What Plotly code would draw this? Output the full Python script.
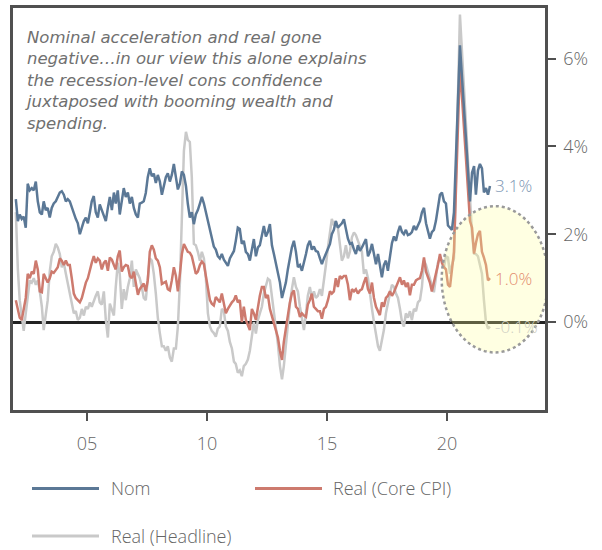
import pandas as pd
import plotly.graph_objects as go

# Monthly series, Jan 2002 - Oct 2021 (% y/y growth)
nom = [
    2.8, 2.3, 2.45, 2.35, 2.4, 2.15, 3.15, 3.0, 3.05, 3.0, 3.2, 2.75,    # 2002
    2.5, 2.45, 2.75, 2.55, 2.6, 2.38, 2.6, 2.7, 2.75, 2.85, 2.95, 2.98,  # 2003
    2.9, 2.75, 2.8, 2.75, 2.6, 2.5, 2.35, 2.25, 2.0, 2.15, 2.3, 2.38,    # 2004
    2.25, 2.5, 2.75, 2.87, 2.5, 2.38, 2.68, 2.55, 2.42, 2.3, 2.6, 2.85,  # 2005
    2.55, 2.95, 2.7, 3.0, 2.45, 2.8, 3.05, 2.85, 2.95, 2.7, 2.85, 2.6,   # 2006
    2.45, 2.38, 2.7, 2.72, 2.75, 2.94, 3.3, 3.5, 3.32, 3.38, 3.17, 3.35, # 2007
    3.2, 2.9, 3.1, 3.3, 3.39, 3.2, 3.35, 3.6, 3.3, 3.02, 3.15, 3.43,     # 2008
    3.35, 3.1, 2.7, 2.38, 2.5, 2.23, 2.45, 2.55, 2.7, 2.85, 2.7, 2.5,    # 2009
    2.3, 2.1, 1.95, 1.72, 1.65, 1.5, 1.45, 1.55, 1.42, 1.35, 1.28, 1.45, # 2010
    1.55, 1.62, 1.85, 2.15, 2.12, 1.78, 1.85, 1.6, 1.55, 1.4, 1.65, 1.89,# 2011
    1.5, 1.7, 1.75, 2.0, 2.19, 1.95, 2.05, 2.23, 1.75, 1.55, 1.35, 1.1,  # 2012
    0.9, 0.55, 0.7, 0.9, 1.2, 1.45, 1.7, 1.85, 1.6, 1.25, 1.3, 1.17,     # 2013
    1.4, 1.55, 1.75, 1.85, 1.65, 1.72, 1.62, 1.6, 1.45, 1.32, 1.45, 1.55,# 2014
    1.65, 1.78, 2.0, 2.1, 2.3, 2.15, 2.2, 2.25, 2.34, 2.1, 1.9, 1.78,    # 2015
    1.8, 1.65, 1.55, 1.75, 1.62, 1.7, 1.8, 1.89, 1.5, 1.6, 1.78, 1.55,   # 2016
    1.32, 1.55, 1.3, 1.02, 1.3, 1.4, 1.17, 1.5, 1.8, 1.95, 1.85, 2.05,   # 2017
    2.19, 2.05, 2.0, 2.1, 1.98, 2.0, 2.05, 2.19, 2.1, 2.2, 2.3, 2.5,     # 2018
    2.6, 2.25, 2.1, 1.9, 2.05, 2.1, 2.3, 2.65, 2.9, 2.95, 2.75, 2.7,     # 2019
    2.2, 2.15, 2.1, 2.5, None, None, 6.3, None, None, None, None, 2.75,  # 2020
    3.4, 3.55, 2.9, 3.45, 3.6, 3.5, 2.95, 3.05, 2.9, 3.1,                # 2021
]

real_core = [
    0.5, 0.25, 0.1, 0.05, 0.3, 0.55, 1.1, 1.0, 1.15, 1.1, 1.4, 1.2,       # 2002
    0.7, 0.68, 1.1, 1.0, 0.9, 1.0, 1.15, 1.12, 1.2, 1.25, 1.45, 1.4,      # 2003
    1.3, 1.4, 1.3, 1.3, 1.0, 0.65, 0.55, 0.5, 0.45, 0.55, 0.75, 0.9,      # 2004
    1.0, 1.2, 1.35, 1.5, 1.35, 1.45, 1.4, 1.2, 1.35, 1.4, 1.17, 1.47,     # 2005
    1.42, 1.3, 1.2, 1.5, 1.63, 1.15, 1.25, 1.3, 1.28, 1.05, 1.0, 1.15,    # 2006
    0.85, 0.62, 0.75, 0.82, 0.88, 0.7, 0.95, 1.6, 1.75, 1.65, 1.45, 1.4,  # 2007
    1.25, 0.87, 0.9, 0.92, 0.75, 0.72, 0.95, 1.25, 1.05, 0.7, 1.1, 1.55,  # 2008
    1.78, 1.7, 1.6, 1.58, 1.5, 1.3, 1.1, 1.15, 1.3, 1.38, 1.32, 1.05,     # 2009
    0.8, 0.5, 0.42, 0.38, 0.57, 0.5, 0.45, 0.65, 0.45, 0.2, 0.3, 0.38,    # 2010
    0.45, 0.5, 0.61, 0.45, 0.5, 0.0, 0.35, 0.05, -0.05, -0.18, 0.3, 0.2,  # 2011
    0.05, 0.35, 0.6, 0.8, 0.8, 0.55, 0.62, 0.3, 0.15, -0.05, -0.15, -0.35,# 2012
    -0.65, -0.86, -0.45, -0.15, 0.25, 0.45, 0.65, 0.72, 0.35, 0.3, 0.12, 0.2, # 2013
    0.15, 0.12, 0.4, 0.5, 0.65, 0.35, 0.3, 0.25, 0.25, 0.08, 0.3, 0.35,   # 2014
    0.5, 0.7, 0.65, 0.7, 1.0, 0.8, 1.05, 1.0, 1.05, 1.05, 0.85, 0.5,      # 2015
    0.75, 0.7, 0.75, 0.65, 0.72, 0.75, 0.9, 1.02, 0.75, 0.65, 0.9, 0.55,  # 2016
    0.35, 0.25, 0.16, 0.45, 0.35, 0.55, 0.6, 0.7, 0.6, 0.68, 0.8, 0.87,   # 2017
    1.02, 0.85, 0.95, 0.8, 0.9, 0.61, 0.85, 0.85, 0.95, 0.98, 1.0, 1.17,  # 2018
    1.47, 1.15, 1.05, 0.9, 0.7, 0.95, 1.1, 1.3, 1.55, 1.35, 1.25, 1.2,    # 2019
    0.85, 0.8, 1.2, 1.6, None, None, 5.85, None, None, None, None, 2.3,   # 2020
    2.15, 1.56, 1.8, 2.0, 2.08, 1.6, 1.47, 1.3, 0.95, 1.0,                # 2021
]

real_headline = [
    2.5, 1.2, 0.5, 0.2, -0.2, 0.2, 0.6, 0.95, 0.9, 1.0, 0.85, 0.95,       # 2002
    0.7, 0.35, -0.18, 0.2, 0.5, 1.15, 1.5, 1.6, 1.78, 1.7, 1.55, 1.25,    # 2003
    1.35, 1.1, 0.9, 0.7, 0.45, 0.2, 0.25, 0.05, 0.1, 0.3, 0.15, 0.35,     # 2004
    0.3, 0.45, 0.35, 0.5, 0.6, 0.7, 0.45, 0.4, 0.7, 0.05, -0.35, 0.42,    # 2005
    0.3, 0.15, 0.8, 1.35, 1.1, 0.3, 0.75, 0.5, 0.8, 1.0, 1.4, 0.8,        # 2006
    1.2, 1.1, 1.0, 0.8, 0.55, 0.5, 1.05, 1.45, 1.4, 1.1, 0.65, 0.1,       # 2007
    -0.25, -0.55, -0.55, -0.65, -0.55, -0.8, -0.9, -0.6, -0.6, -0.1, 0.9, 2.6, # 2008
    3.9, 4.33, 4.15, 4.1, 3.3, 1.78, 1.75, 1.6, 1.4, 1.6, 1.45, 1.0,      # 2009
    0.2, -0.1, -0.2, -0.25, -0.33, -0.15, -0.1, 0.3, 0.25, -0.1, -0.2, -0.45, # 2010
    -0.6, -0.9, -0.95, -1.15, -1.1, -1.23, -1.0, -0.95, -0.85, -0.65, -0.3, 0.0, # 2011
    -0.26, 0.05, 0.2, 0.35, 0.65, 0.8, 0.99, 0.95, 0.6, 0.2, -0.15, -0.5, # 2012
    -1.0, -1.3, -1.0, -0.5, 0.0, 0.4, 0.75, 1.02, 0.8, 0.7, 0.35, 0.1,    # 2013
    -0.18, 0.2, 0.6, 0.8, 0.55, 0.7, 0.55, 0.6, 0.75, 0.6, 0.9, 1.3,      # 2014
    1.7, 2.1, 2.35, 2.2, 2.3, 2.15, 1.8, 1.4, 1.5, 1.75, 1.45, 1.6,       # 2015
    1.93, 2.04, 1.98, 1.85, 1.7, 1.6, 1.1, 1.2, 1.0, 0.6, 0.3, 0.0,       # 2016
    -0.3, -0.55, -0.65, -0.4, -0.18, 0.2, 0.45, 0.65, 0.85, 0.8, 0.65, 0.55, # 2017
    0.3, 0.0, -0.1, 0.2, 0.1, 0.25, 0.05, 0.3, 0.25, 0.45, 0.5, 0.8,      # 2018
    1.4, 1.3, 1.15, 1.0, 0.8, 0.68, 1.0, 1.35, 1.45, 1.4, 1.25, 1.5,      # 2019
    1.47, 1.1, 1.3, 1.45, None, None, 7.0, None, None, None, None, 2.6,   # 2020
    2.0, 1.56, 1.55, 1.5, 1.3, 1.1, 0.5, 0.0, -0.15, -0.1,                # 2021
]

# mid-month dates
dates = pd.date_range("2002-01-01", periods=len(nom), freq="MS") + pd.Timedelta(days=14)

series_names = ["Nom", "Real (Core CPI)", "Real (Headline)"]
series_values = [nom, real_core, real_headline]
series_colors = ["#5b7896", "#cd7a6e", "#c9c9c9"]
label_colors = ["#7d96b4", "#e38c6e", "#cfcfc2"]

tick_dates = ["2005-01-01", "2010-01-01", "2015-01-01", "2020-01-01"]
tick_labels = ["05", "10", "15", "20"]
y_ticks = [0, 2, 4, 6]
y_tick_labels = ["0%", "2%", "4%", "6%"]

note = ("Nominal acceleration and real gone<br>"
        "negative…in our view this alone explains<br>"
        "the recession-level cons confidence<br>"
        "juxtaposed with booming wealth and<br>"
        "spending.")

TEXT = "#666666"
AXIS = "#505050"
FONT = "Open Sans"

fig = go.Figure()

# draw gray first so the coloured lines sit on top
for idx in [2, 1, 0]:
    fig.add_trace(go.Scatter(
        x=dates, y=series_values[idx], mode="lines", name=series_names[idx],
        line=dict(color=series_colors[idx], width=2.5),
        connectgaps=True, showlegend=False, hoverinfo="skip",
    ))

# highlighted recent period
fig.add_shape(type="circle", xref="x", yref="y",
              x0="2019-10-12", x1="2024-03-17", y0=-0.69, y1=2.64,
              fillcolor="rgba(255,255,150,0.28)",
              line=dict(color="#9a9a9a", width=2.5, dash="dot"),
              layer="above")

annotations = []
# end-of-series value labels
for vals, col in zip(series_values, label_colors):
    last = vals[-1]
    annotations.append(dict(
        x=dates[-1], y=last, xref="x", yref="y", text=f"{last:.1f}%",
        showarrow=False, xanchor="left", yanchor="middle", xshift=3,
        font=dict(size=17, color=col),
    ))

# commentary
annotations.append(dict(
    x=(23 - 13) / 532, y=(410 - 23) / 405, xref="paper", yref="paper",
    text=note, showarrow=False, xanchor="left", yanchor="top", align="left",
    font=dict(family="DejaVu Sans", size=16.5, weight=200, color="#707070",
              style="italic"),
))

# legend (line sample + label)
legend_pos = [(32, 99, 109, 489), (255, 322, 331, 489), (32, 99, 109, 537)]
for (x0, x1, tx, ty), name, col in zip(legend_pos, series_names, series_colors):
    fig.add_shape(type="line", xref="paper", yref="paper",
                  x0=(x0 - 13) / 532, x1=(x1 - 13) / 532,
                  y0=(410 - ty) / 405, y1=(410 - ty) / 405,
                  line=dict(color=col, width=3))
    annotations.append(dict(
        x=(tx - 13) / 532, y=(410 - ty) / 405, xref="paper", yref="paper",
        text=name, showarrow=False, xanchor="left", yanchor="middle",
        font=dict(size=18, color=TEXT),
    ))

fig.update_layout(
    width=602, height=550,
    margin=dict(l=13, r=57, t=5, b=140),
    paper_bgcolor="white", plot_bgcolor="white",
    font=dict(family=FONT, weight=300, color=TEXT),
    annotations=annotations,
    showlegend=False,
    xaxis=dict(
        type="date", range=["2001-12-03", "2024-01-30"],
        tickvals=tick_dates, ticktext=tick_labels,
        ticks="outside", ticklen=8, tickwidth=2, tickcolor=AXIS,
        showline=True, linecolor=AXIS, linewidth=2.5, mirror=True,
        showgrid=False, zeroline=False,
        tickfont=dict(size=18, color=TEXT), ticklabelstandoff=8,
    ),
    yaxis=dict(
        side="right", range=[-2.0, 7.15],
        tickvals=y_ticks, ticktext=y_tick_labels,
        ticks="outside", ticklen=8, tickwidth=2, tickcolor=AXIS,
        showline=True, linecolor=AXIS, linewidth=2.5, mirror=True,
        showgrid=False,
        zeroline=True, zerolinecolor="#222222", zerolinewidth=2.5,
        tickfont=dict(size=18, color=TEXT), ticklabelstandoff=4,
    ),
)

fig.write_html("out.html")
